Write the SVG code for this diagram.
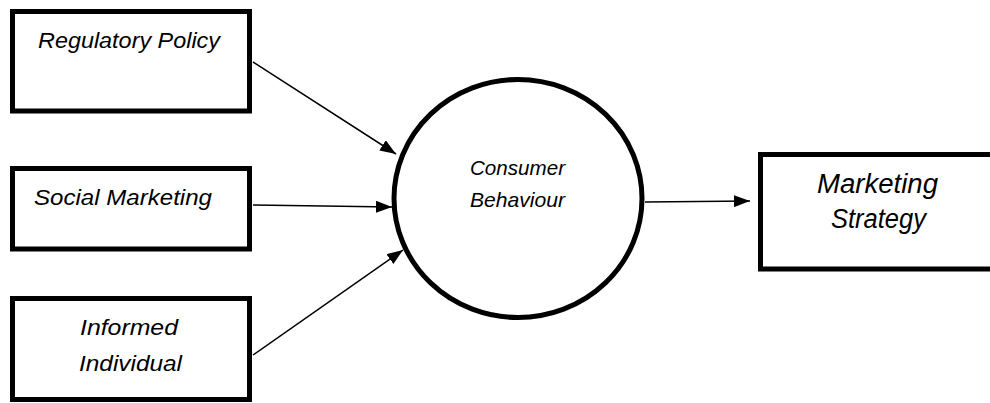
<svg xmlns="http://www.w3.org/2000/svg" width="990" height="403" viewBox="0 0 990 403">
  <style>
    .box { fill: #fff; stroke: #000; stroke-width: 5; }
    .hub { fill: #fff; stroke: #000; stroke-width: 5; }
    .lbl { font-family: "Liberation Sans", Arial, sans-serif; font-style: italic; fill: #000; }
    .link { stroke: #000; stroke-width: 1.5; fill: none; marker-end: url(#head); }
  </style>
  <defs>
    <marker id="head" markerWidth="16" markerHeight="12" refX="16" refY="6" orient="auto" markerUnits="userSpaceOnUse">
      <path d="M0,0 L16,6 L0,12 Z" fill="#000"/>
    </marker>
  </defs>

  <g id="connectors">
    <line class="link" x1="253" y1="62" x2="396" y2="154"/>
    <line class="link" x1="253" y1="205" x2="392" y2="207"/>
    <line class="link" x1="253" y1="355" x2="403" y2="250"/>
    <line class="link" x1="645" y1="202" x2="750" y2="201"/>
  </g>

  <g id="regulatory-policy">
    <rect class="box" x="12.5" y="11.5" width="237" height="99.5"/>
    <text class="lbl" x="38" y="48" font-size="22" textLength="182" lengthAdjust="spacingAndGlyphs">Regulatory Policy</text>
  </g>

  <g id="social-marketing">
    <rect class="box" x="12.5" y="168.5" width="237" height="80.5"/>
    <text class="lbl" x="34" y="205" font-size="22" textLength="178" lengthAdjust="spacingAndGlyphs">Social Marketing</text>
  </g>

  <g id="informed-individual">
    <rect class="box" x="12.5" y="298.5" width="237" height="101"/>
    <text class="lbl" x="80" y="335" font-size="22" textLength="98" lengthAdjust="spacingAndGlyphs">Informed</text>
    <text class="lbl" x="79" y="371" font-size="22" textLength="103" lengthAdjust="spacingAndGlyphs">Individual</text>
  </g>

  <g id="consumer-behaviour">
    <ellipse class="hub" cx="518" cy="198.5" rx="124" ry="119"/>
    <text class="lbl" x="470" y="175" font-size="21" textLength="95" lengthAdjust="spacingAndGlyphs">Consumer</text>
    <text class="lbl" x="470" y="207" font-size="21" textLength="95" lengthAdjust="spacingAndGlyphs">Behaviour</text>
  </g>

  <g id="marketing-strategy">
    <rect class="box" x="760.5" y="154.5" width="240" height="114.5"/>
    <text class="lbl" x="817" y="193" font-size="27" textLength="121" lengthAdjust="spacingAndGlyphs">Marketing</text>
    <text class="lbl" x="831" y="228" font-size="27" textLength="95" lengthAdjust="spacingAndGlyphs">Strategy</text>
  </g>
</svg>
